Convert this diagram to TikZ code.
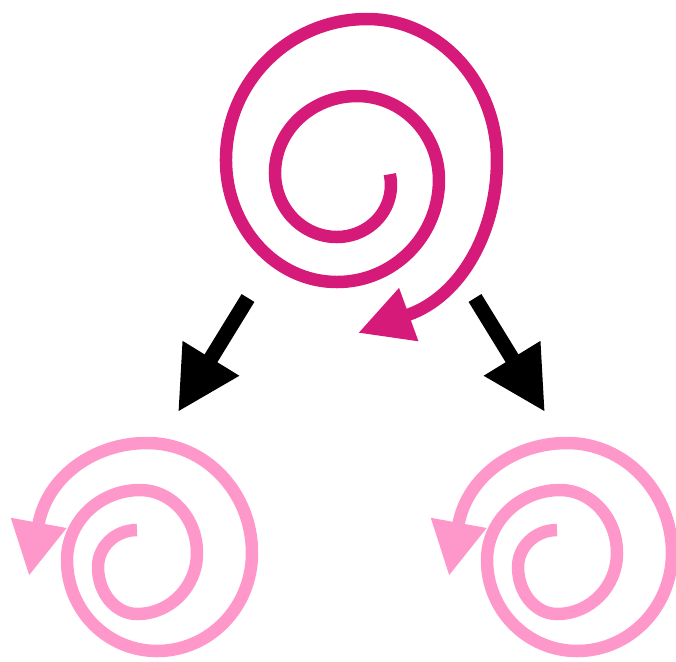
\documentclass[tikz,border=0pt]{standalone}
\usetikzlibrary{arrows.meta}

\definecolor{twirldeep}{RGB}{213,26,122}
\definecolor{twirlpale}{RGB}{255,152,202}

\tikzset{
    spiral/.style      = {line width=12.5pt, line join=round},
    bigspiral/.style   = {spiral, draw=twirldeep, -{Triangle[length=54pt, width=53pt]}},
    smallspiral/.style = {spiral, draw=twirlpale, -{Triangle[length=54pt, width=53pt]}},
    splitarrow/.style  = {line width=15pt, draw=black, -{Triangle[length=63pt, width=62pt]}},
    twirl/.pic = {
        \draw[smallspiral] (-13,-20)
            arc[start angle=270,  end angle=180,  x radius=39,  y radius=37]
            arc[start angle=180,  end angle=90,   x radius=39,  y radius=47]
            arc[start angle=90,   end angle=0,    x radius=60,  y radius=61]
            arc[start angle=0,    end angle=-90,  x radius=57,  y radius=63]
            arc[start angle=-90,  end angle=-180, x radius=73,  y radius=70]
            arc[start angle=-180, end angle=-270, x radius=90,  y radius=91]
            arc[start angle=-270, end angle=-360, x radius=95,  y radius=98]
            arc[start angle=-360, end angle=-450, x radius=105, y radius=110]
            arc[start angle=-450, end angle=-530, x radius=110, y radius=97]
            -- (-121,26);
    }
}

\begin{document}
\begin{tikzpicture}[x=1pt, y=-1pt]
    \useasboundingbox (0,0) rectangle (676,661);

    % Big spiral
    \draw[bigspiral] (389.8,174.2)
        arc[start angle=-12, end angle=90,  x radius=54,  y radius=52]
        arc[start angle=90,  end angle=180, x radius=62,  y radius=64]
        arc[start angle=180, end angle=270, x radius=82,  y radius=77]
        arc[start angle=270, end angle=360, x radius=82,  y radius=84]
        arc[start angle=0,   end angle=90,  x radius=102, y radius=102]
        arc[start angle=90,  end angle=180, x radius=111, y radius=122]
        arc[start angle=180, end angle=270, x radius=141, y radius=141]
        arc[start angle=270, end angle=360, x radius=130, y radius=141]
        arc[start angle=0,   end angle=75,  x radius=119, y radius=160]
        -- (358,333);

    % Split arrows
    \coordinate (splitL) at (248,298);
    \coordinate (landL)  at (178,412);
    \coordinate (splitR) at (475,298);
    \coordinate (landR)  at (545,412);
    \draw[splitarrow] (splitL) -- (landL);
    \draw[splitarrow] (splitR) -- (landR);

    % Small spirals
    \pic at (150,550) {twirl};
    \pic at (570,550) {twirl};
\end{tikzpicture}
\end{document}
